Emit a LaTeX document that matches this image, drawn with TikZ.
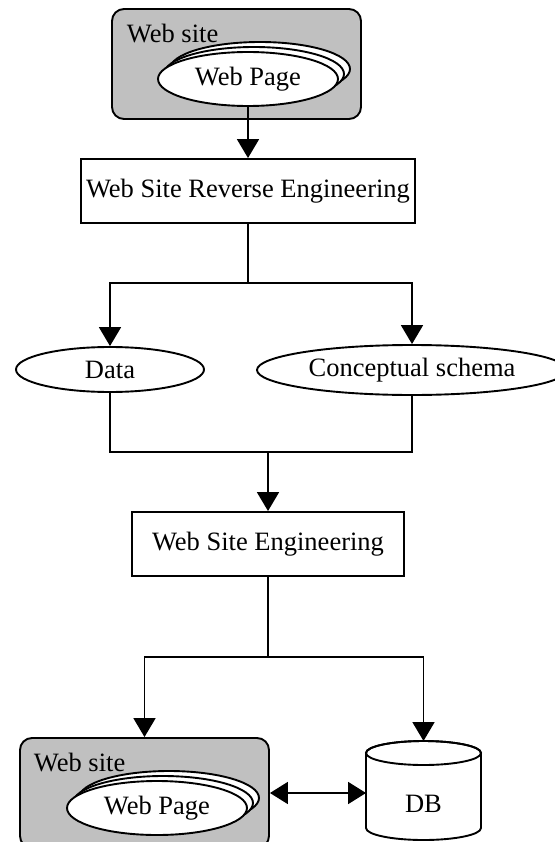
\documentclass[tikz,border=0pt]{standalone}
\usepackage{fontspec}
\setmainfont{Liberation Serif}
\usetikzlibrary{arrows.meta,shapes.geometric}
\definecolor{sitegray}{HTML}{C0C0C0}
\tikzset{
  site/.style={draw,fill=sitegray,rounded corners=12pt,minimum width=249pt,minimum height=110pt},
  sitelabel/.style={anchor=north west,inner sep=0pt},
  page/.style={draw,fill=white,ellipse,inner sep=0pt,minimum width=180pt,minimum height=54pt},
  proc/.style={draw,rectangle,inner sep=0pt,minimum height=64pt},
  item/.style={draw,ellipse,inner sep=0pt},
  arr/.style={-{Triangle[length=19pt,width=22pt]}},
  darr/.style={{Triangle[length=18pt,width=22pt]}-{Triangle[length=18pt,width=22pt]}},
}

\begin{document}
\begin{tikzpicture}[x=1pt,y=-1pt,line width=1.9pt,font=\fontsize{26.5}{30}\selectfont]
        \useasboundingbox (0,0) rectangle (554,842);
        % source site
        \node[site] (site1) at (236.5,64) {};
        \node[sitelabel] (sitename1) at (126,23) {Web site};
        \node[page] (page1c) at (260,69) {};
        \node[page] (page1b) at (254,74) {};
        \node[page] (page1) at (248,79) {Web Page};
        \node[proc,minimum width=334pt] (rev) at (248,191) {Web Site Reverse Engineering};
        \node[item,minimum width=188pt,minimum height=45pt] (data) at (110,369.5) {Data};
        \node[item,minimum width=310pt,minimum height=50pt] (concept) at (412,370) {Conceptual schema};
        \node[proc,minimum width=272pt] (eng) at (268,544) {Web Site Engineering};
        % target site
        \node[site] (site2) at (144.5,793) {};
        \node[sitelabel] (sitename2) at (33,752) {Web site};
        \node[page] (page2c) at (169,798) {};
        \node[page] (page2b) at (163,803) {};
        \node[page] (page2) at (157,808) {Web Page};
        % database
        \draw[fill=white] (366,753) -- (366,828) arc[start angle=180,end angle=0,x radius=57.5,y radius=12]
          -- (481,753) arc[start angle=0,end angle=-180,x radius=57.5,y radius=12] -- cycle;
        \draw (423.5,753) ellipse[x radius=57.5,y radius=12];
        \coordinate (dbtop) at (423.5,741);
        \coordinate (dbleft) at (366,793);
        \node (dbname) at (423.5,804) {DB};
        \coordinate (split1) at (248,283);
        \coordinate (join1) at (268,452);
        \coordinate (split2) at (268,657);
        \draw[arr] (page1.south) -- (rev.north);
        \draw (rev.south) -- (split1);
        \draw[arr] (split1) -| (data.north);
        \draw[arr] (split1) -| (concept.north);
        \draw (data.south) |- (join1);
        \draw (concept.south) |- (join1);
        \draw[arr] (join1) -- (eng.north);
        \draw (eng.south) -- (split2);
        \draw[arr] (split2) -| (site2.north);
        \draw[arr] (split2) -| (dbtop);
        \draw[darr] (site2.east) -- (dbleft);
\end{tikzpicture}
\end{document}
